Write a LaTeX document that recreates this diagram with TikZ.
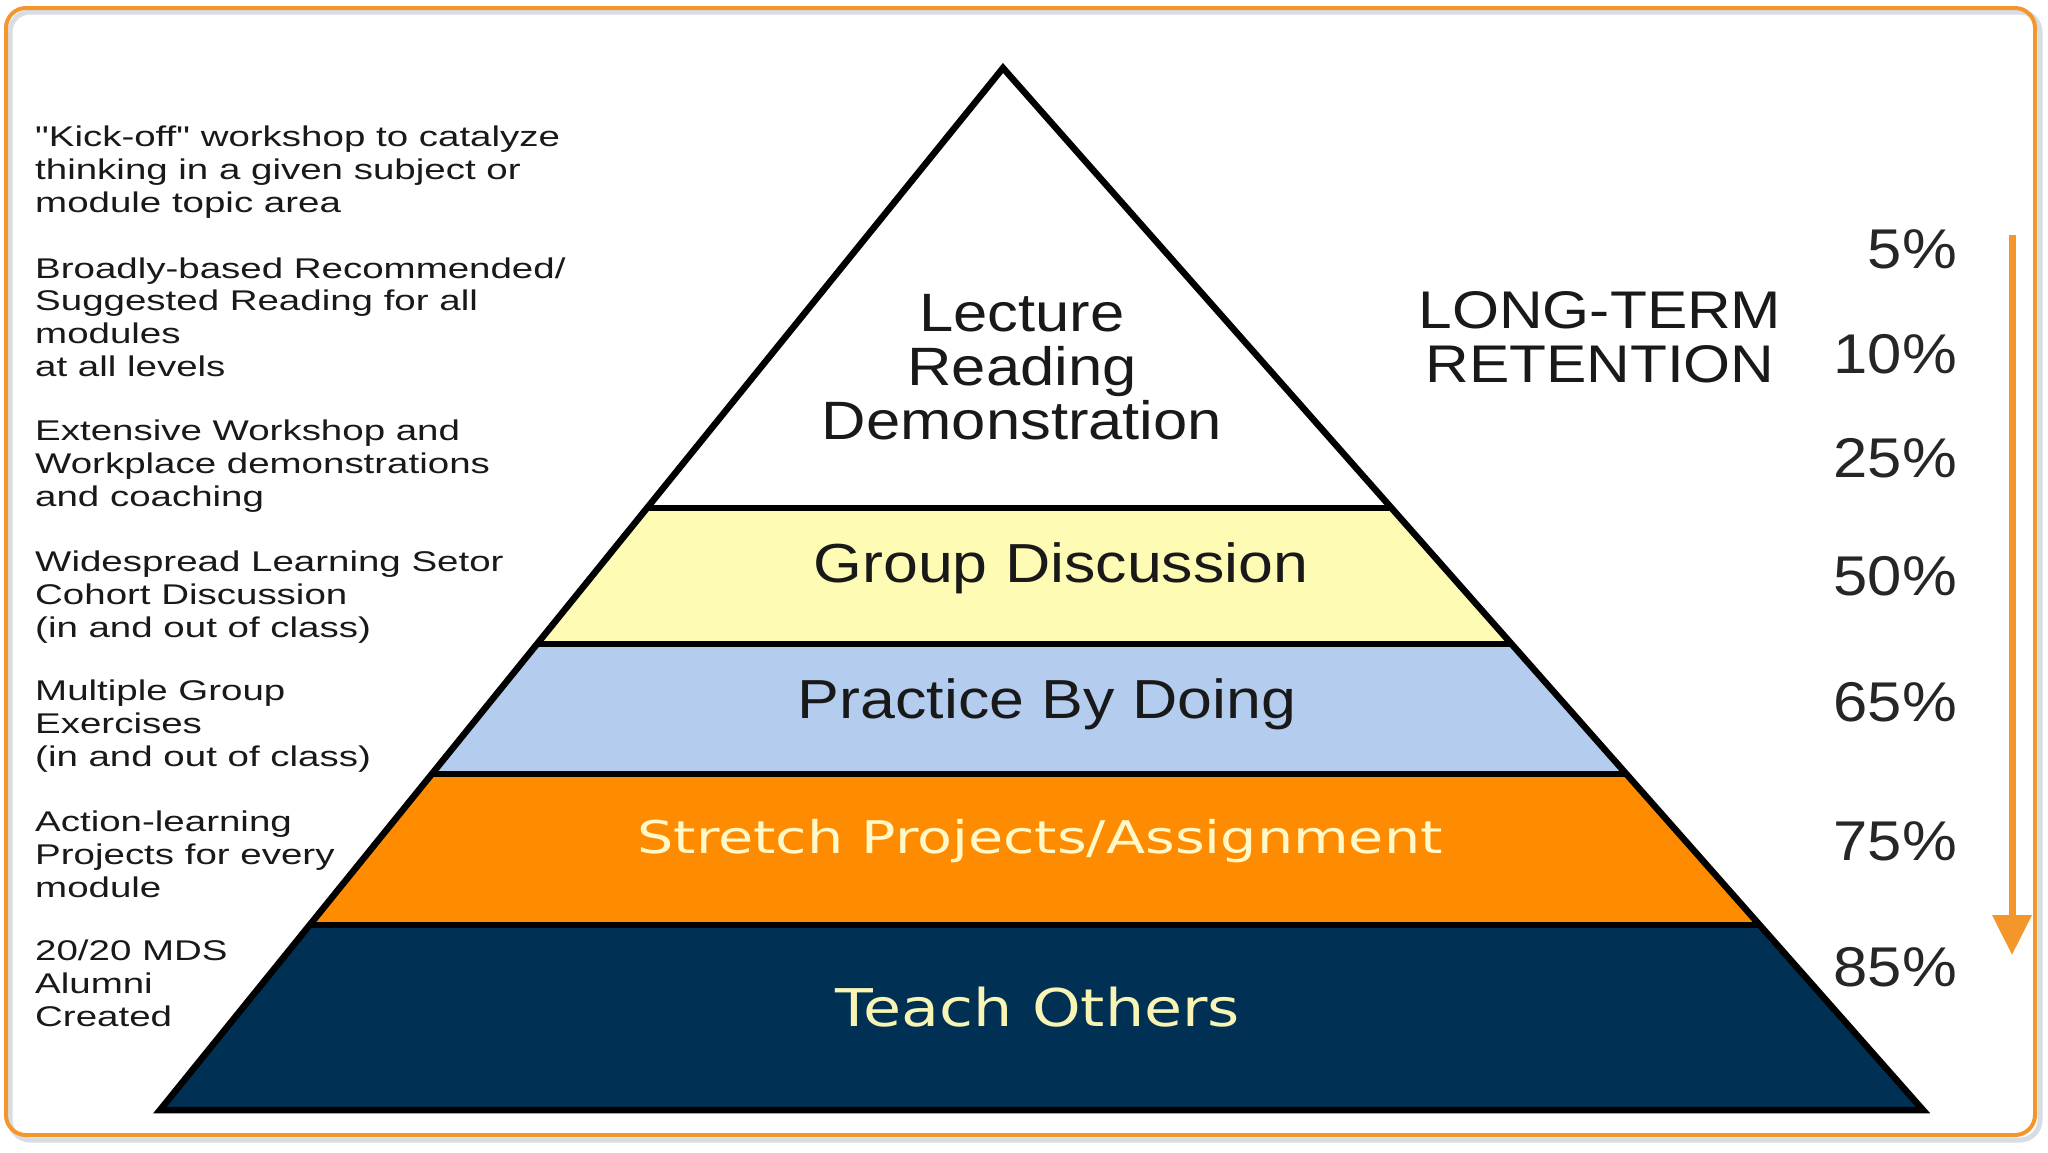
\documentclass[tikz,border=0pt]{standalone}
\usepackage{fontspec}
\setmainfont{Liberation Sans}
\newfontfamily\leftfont[FakeStretch=1.35]{Liberation Sans}
\newfontfamily\bigfont[FakeStretch=1.14]{Liberation Sans}
\newfontfamily\pctfont[FakeStretch=1.1]{Liberation Sans}
\newfontfamily\verdA[FakeStretch=1.27]{DejaVu Sans}
\newfontfamily\verdB[FakeStretch=1.19]{DejaVu Sans}
\usetikzlibrary{arrows.meta,calc}
\definecolor{borderorange}{HTML}{F5962A}
\definecolor{shadowgray}{HTML}{D8DCE4}
\definecolor{yellowband}{HTML}{FEFBB5}
\definecolor{blueband}{HTML}{B4CCEE}
\definecolor{orangeband}{HTML}{FF8C00}
\definecolor{navyband}{HTML}{003054}
\definecolor{paletext}{HTML}{FFF8C8}
\definecolor{paletextB}{HTML}{F8F4B4}
\begin{document}
\begin{tikzpicture}[x=1pt,y=-1pt,
  pyr/.style={line width=6.5pt,draw=black,line join=miter},
  lefttxt/.style={anchor=base west,align=left,inner sep=0pt,font=\leftfont\fontsize{28.5}{32.6}\selectfont,text=black!90},
  bandtxt/.style={anchor=base,inner sep=0pt,font=\bigfont\fontsize{55}{54}\selectfont,text=black!90},
  pcttxt/.style={anchor=base east,inner sep=0pt,font=\pctfont\fontsize{56}{56}\selectfont,text=black!85},
]
\useasboundingbox (0,0) rectangle (2048,1152);
\fill[white] (0,0) rectangle (2048,1152);
% frame
\draw[shadowgray,line width=5pt,rounded corners=20pt] (10,12) rectangle (2040,1140);
\draw[borderorange,line width=4pt,rounded corners=20pt] (6,8) rectangle (2035,1135);
% pyramid geometry
\coordinate (A) at (1003,68);
\coordinate (BL) at (160,1110);
\coordinate (BR) at (1923,1110);
\coordinate (L1) at ($(A)!0.4223!(BL)$);
\coordinate (R1) at ($(A)!0.4223!(BR)$);
\coordinate (L2) at ($(A)!0.5528!(BL)$);
\coordinate (R2) at ($(A)!0.5528!(BR)$);
\coordinate (L3) at ($(A)!0.6775!(BL)$);
\coordinate (R3) at ($(A)!0.6775!(BR)$);
\coordinate (L4) at ($(A)!0.8225!(BL)$);
\coordinate (R4) at ($(A)!0.8225!(BR)$);
\fill[yellowband] (L1) -- (R1) -- (R2) -- (L2) -- cycle;
\fill[blueband] (L2) -- (R2) -- (R3) -- (L3) -- cycle;
\fill[orangeband] (L3) -- (R3) -- (R4) -- (L4) -- cycle;
\fill[navyband] (L4) -- (R4) -- (BR) -- (BL) -- cycle;
\draw[pyr] (A) -- (BR) -- (BL) -- cycle;
\draw[pyr] (L1) -- (R1);
\draw[pyr] (L2) -- (R2);
\draw[pyr] (L3) -- (R3);
\draw[pyr] (L4) -- (R4);
% band labels
\node[bandtxt,align=center,font=\bigfont\fontsize{54}{54}\selectfont] (lecture) at (1022,439) {Lecture\\Reading\\Demonstration};
\node[bandtxt] (group) at (1061,582) {Group Discussion};
\node[bandtxt] (practice) at (1047,718) {Practice By Doing};
\node[anchor=base,inner sep=0pt,font=\verdA\fontsize{45}{45}\selectfont,text=paletext] (stretch) at (1040,853) {Stretch Projects/Assignment};
\node[anchor=base,inner sep=0pt,font=\verdB\fontsize{52}{52}\selectfont,text=paletextB] (teach) at (1038,1026) {Teach Others};
% retention title
\node[bandtxt,align=center,font=\bigfont\fontsize{53}{54}\selectfont] (ltr) at (1600,382) {LONG-TERM\\RETENTION};
% percentages
\node[pcttxt] (p5) at (1957,268) {5\%};
\node[pcttxt] (p10) at (1957,373) {10\%};
\node[pcttxt] (p25) at (1957,477) {25\%};
\node[pcttxt] (p50) at (1957,595) {50\%};
\node[pcttxt] (p65) at (1957,721) {65\%};
\node[pcttxt] (p75) at (1957,860) {75\%};
\node[pcttxt] (p85) at (1957,986) {85\%};
% arrow
\coordinate (arrtop) at (2012,235);
\coordinate (arrbot) at (2012,955);
\draw[borderorange,line width=7pt,-{Triangle[length=40pt,width=38pt]}] (arrtop) -- (arrbot);
% left descriptions (anchored at the baseline of the last line)
\node[lefttxt] (d1) at (35,212) {"Kick-off" workshop to catalyze\\thinking in a given subject or\\module topic area};
\node[lefttxt] (d2) at (35,376) {Broadly-based Recommended/\\Suggested Reading for all\\modules\\at all levels};
\node[lefttxt] (d3) at (35,506) {Extensive Workshop and\\Workplace demonstrations\\and coaching};
\node[lefttxt] (d4) at (35,637) {Widespread Learning Setor\\Cohort Discussion\\(in and out of class)};
\node[lefttxt] (d5) at (35,766) {Multiple Group\\Exercises\\(in and out of class)};
\node[lefttxt] (d6) at (35,897) {Action-learning\\Projects for every\\module};
\node[lefttxt] (d7) at (35,1026) {20/20 MDS\\Alumni\\Created};
\end{tikzpicture}
\end{document}
